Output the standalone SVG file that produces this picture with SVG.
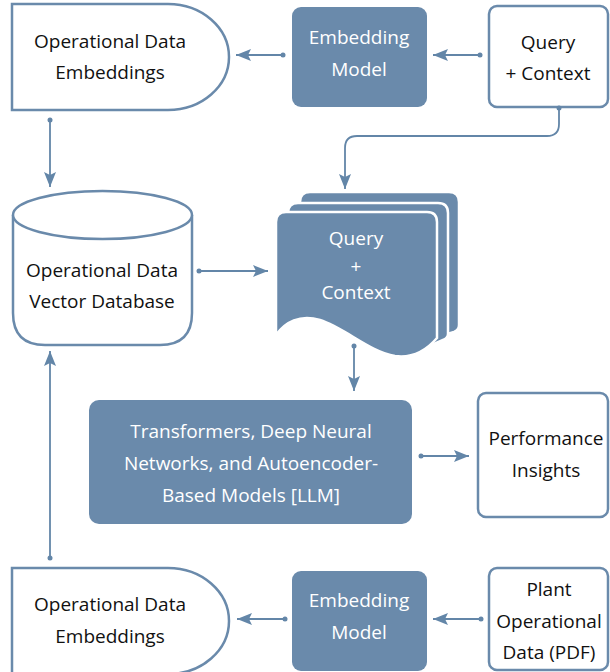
<svg xmlns="http://www.w3.org/2000/svg" width="610" height="672" viewBox="0 0 610 672">
<defs>
<style>
.w{fill:#fff;stroke:#6a8aab;stroke-width:2.5}
.b{fill:#6a8aab}
.d{fill:#6a8aab;stroke:#fff;stroke-width:2.5}
text{font-family:"Open Sans","Noto Sans",sans-serif;font-size:19px;text-anchor:middle}
.tk{fill:#111}
.tw{fill:#fff}
.c{fill:none;stroke:#6386a8;stroke-width:1.8;marker-start:url(#dot);marker-end:url(#ah)}
</style>
<marker id="ah" markerUnits="userSpaceOnUse" markerWidth="16" markerHeight="14" refX="15" refY="6" orient="auto">
<path d="M0,0 L15,6 L0,12 L3,6 Z" fill="#6386a8"/>
</marker>
<marker id="dot" markerUnits="userSpaceOnUse" markerWidth="6" markerHeight="6" refX="3" refY="3">
<circle cx="3" cy="3" r="2.5" fill="#6386a8"/>
</marker>
</defs>
<rect width="610" height="672" fill="#fff"/>

<g id="emb-top">
<path class="w" d="M12,4 L168,4 A61,53 0 0 1 168,110 L12,110 Z"/>
<text class="tk" x="110" y="48">Operational Data</text>
<text class="tk" x="110" y="79">Embeddings</text>
</g>
<g id="model-top">
<rect class="b" x="292" y="7" width="135" height="100" rx="9"/>
<text class="tw" x="359" y="44">Embedding</text>
<text class="tw" x="359" y="76">Model</text>
</g>
<g id="query-top">
<rect class="w" x="489" y="6" width="119" height="101" rx="8"/>
<text class="tk" x="548" y="49">Query</text>
<text class="tk" x="548" y="80">+ Context</text>
</g>
<g id="vector-db">
<path class="w" d="M13,215 L13,313 Q13,345 45,345 L160,345 Q192,345 192,313 L192,215"/>
<ellipse class="w" cx="102.5" cy="215" rx="89.5" ry="24"/>
<text class="tk" x="102" y="277">Operational Data</text>
<text class="tk" x="102" y="308">Vector Database</text>
</g>
<g id="query-doc">
<path class="d" d="M300,240 L300,202 Q300,192 310,192 L449,192 Q459,192 459,202 L459,325 Q459,330 454,332 L420,342 L300,300 Z"/>
<path class="d" d="M288,240 L288,213 Q288,203 298,203 L438,203 Q448,203 448,213 L448,334 Q448,338 443,340 L420,350 L288,300 Z"/>
<path class="d" d="M276,335 L276,222 Q276,212 286,212 L427,212 Q437,212 437,222 L437,338 C425,352 410,358 395,356 C370,352 345,328 320,320 C300,314 285,322 276,335 Z"/>
<path d="M284,331 C288,324 294,321 300,320" fill="none" stroke="#fff" stroke-width="2"/>
<text class="tw" x="356" y="245">Query</text>
<text class="tw" x="356" y="273">+</text>
<text class="tw" x="356" y="299">Context</text>
</g>
<g id="llm">
<rect class="b" x="89" y="400" width="323" height="124" rx="10"/>
<text class="tw" x="251" y="438">Transformers, Deep Neural</text>
<text class="tw" x="251" y="470">Networks, and Autoencoder-</text>
<text class="tw" x="251" y="502">Based Models [LLM]</text>
</g>
<g id="insights">
<rect class="w" x="478" y="393" width="130" height="124" rx="8"/>
<text class="tk" x="546" y="445">Performance</text>
<text class="tk" x="546" y="477">Insights</text>
</g>
<g id="emb-bottom">
<path class="w" d="M12,568 L168,568 A61,53 0 0 1 168,674 L12,674 Z"/>
<text class="tk" x="110" y="611">Operational Data</text>
<text class="tk" x="110" y="643">Embeddings</text>
</g>
<g id="model-bottom">
<rect class="b" x="292" y="571" width="135" height="100" rx="9"/>
<text class="tw" x="359" y="607">Embedding</text>
<text class="tw" x="359" y="639">Model</text>
</g>
<g id="plant">
<rect class="w" x="489" y="568" width="119" height="102" rx="8"/>
<text class="tk" x="549" y="596">Plant</text>
<text class="tk" x="549" y="628">Operational</text>
<text class="tk" x="549" y="659">Data (PDF)</text>
</g>

<g id="connectors">
<path class="c" d="M283,55 L236,55"/>
<path class="c" d="M480,55 L433,55"/>
<path class="c" d="M559,108 L559,124 Q559,136 547,136 L357,136 Q345,136 345,148 L345,189"/>
<path class="c" d="M50,120 L50,187"/>
<path class="c" d="M199,271 L268,271"/>
<path class="c" d="M354,346 L354,391"/>
<path class="c" d="M421,456 L469,456"/>
<path class="c" d="M50,558 L50,351"/>
<path class="c" d="M285,619 L237,619"/>
<path class="c" d="M481,619 L433,619"/>
</g>
</svg>
